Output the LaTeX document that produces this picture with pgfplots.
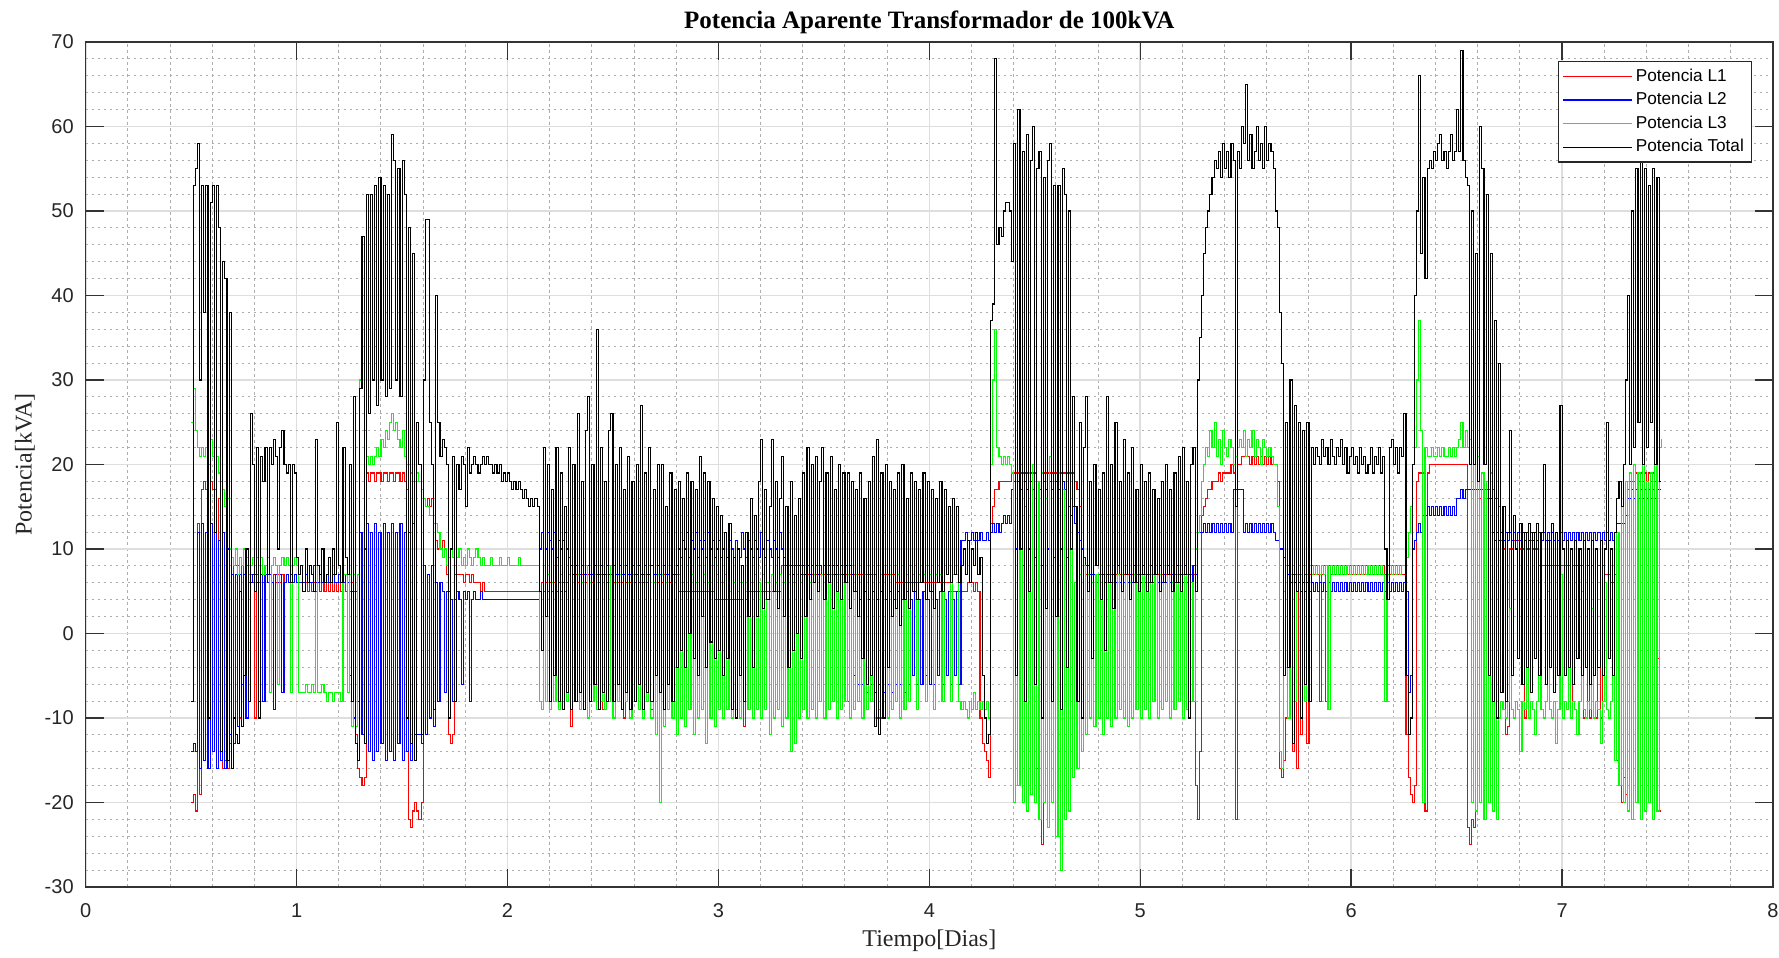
\documentclass[border=0pt]{standalone}
\usepackage{pgfplots}
\pgfplotsset{compat=1.18}
\usepackage{pgfplotstable}
\usepackage{fontspec}
\setmainfont{Liberation Serif}
\newfontfamily\ticksfont{Liberation Sans}

\pgfplotstableread{
x L1 L2 L3 T
0.50 -20 -14 25 -8
0.51 -19 -13 29 53
0.52 -21 -14 24 55
0.53 13 12 22 58
0.54 -19 -16 21 30
0.55 17 13 22 53
0.56 18 -15 21 38
0.57 17 12 22 53
0.58 -16 -16 20 -10
0.59 18 13 23 51
0.60 17 -14 21 53
0.61 17 12 22 12
0.62 -16 -16 21 53
0.63 16 11 19 48
0.64 -15 -15 18 -14
0.65 -16 12 17 44
0.66 -15 -16 15 42
0.67 -16 10 16 -15
0.68 -13 -12 10 38
0.69 -16 7 9 -16
0.70 8 -13 8 -10
0.71 8 7 10 -12
0.72 8 -11 7 -13
0.73 -10 7 9 5
0.74 8 -6 8 -11
0.75 7 7 10 -5
0.76 8 -10 9 10
0.77 6 7 7 -8
0.78 7 6 8 26
0.79 6 7 9 20
0.80 -10 7 8 5
0.81 7 6 9 22
0.82 6 -8 8 -10
0.83 7 7 9 21
0.84 6 -8 7 18
0.85 7 7 8 22
0.86 6 6 9 7
0.87 7 7 -7 22
0.88 6 6 8 20
0.89 7 -9 9 23
0.90 6 7 8 21
0.91 7 6 -6 10
0.92 6 7 8 22
0.93 7 -7 9 24
0.94 6 6 8 20
0.95 7 7 9 19
0.96 6 6 8 20
0.97 7 7 -7 6
0.98 6 6 8 20
0.99 7 7 9 19
1.00 6 6 8 9
1.01 6 6 -7 7
1.02 6 6 -7 8
1.03 5 6 -7 5
1.04 6 7 -6 10
1.05 5 6 -7 6
1.06 6 6 -7 8
1.07 5 6 -6 7
1.08 6 8 -7 5
1.09 5 6 8 23
1.10 6 6 -7 8
1.11 5 7 -7 7
1.12 6 6 -6 10
1.13 5 6 -7 6
1.14 6 7 -8 7
1.15 5 6 -7 9
1.16 6 6 -7 6
1.17 5 7 -8 10
1.18 6 6 -7 7
1.19 5 6 -7 25
1.20 6 7 -7 8
1.21 5 6 -8 6
1.22 6 6 7 22
1.23 5 7 7 9
1.24 6 6 -7 7
1.25 5 -5 7 20
1.26 6 5 -11 -8
1.27 5 -10 7 28
1.28 -12 5 -11 -13
1.29 -16 -8 7 -15
1.30 -17 12 30 29
1.31 -18 -12 40 47
1.32 -17 10 24 -13
1.33 19 13 21 52
1.34 18 -14 20 26
1.35 19 12 21 52
1.36 19 -15 20 30
1.37 18 13 21 53
1.38 19 -14 22 27
1.39 19 12 21 54
1.40 18 -13 23 30
1.41 19 13 22 53
1.42 19 -15 24 28
1.43 18 12 23 52
1.44 19 -14 25 29
1.45 19 13 26 59
1.46 18 -15 24 56
1.47 19 12 25 30
1.48 19 -13 23 55
1.49 18 13 22 28
1.50 19 -15 24 56
1.51 18 12 21 52
1.52 17 -14 20 -10
1.53 -22 12 20 48
1.54 -23 -15 19 -13
1.55 -21 13 18 45
1.56 -20 -12 18 -15
1.57 -21 -12 19 25
1.58 -22 -12 18 20
1.59 -20 -13 17 -12
1.60 16 8 16 30
1.61 15 -12 15 49
1.62 16 7 15 49
1.63 15 -10 14 25
1.64 16 8 14 20
1.65 13 -11 13 -9
1.66 11 6 13 40
1.67 10 -8 12 25
1.68 10 6 10 21
1.69 11 5 9 23
1.70 10 -7 10 22
1.71 7 5 8 20
1.72 -12 5 9 -10
1.73 -13 4 10 10
1.74 -12 -8 9 21
1.75 7 4 8 -8
1.76 7 5 9 20
1.77 7 4 10 17
1.78 7 -6 8 21
1.79 6 5 9 20
1.80 7 4 8 15
1.81 7 5 10 22
1.82 6 -8 9 19
1.83 7 4 8 20
1.84 6 5 9 21
1.85 6 4 10 20
1.86 6 4 9 19
1.87 5 5 8 20
1.88 6 4 9 21
1.89 5 4 8 20
1.90 5 4 8 21
1.91 5 4 8 20
1.92 5 4 9 20
1.93 5 4 8 19
1.94 5 4 8 20
1.95 5 4 8 19
1.96 5 4 9 20
1.97 5 4 8 18
1.98 5 4 8 19
1.99 5 4 8 18
2.00 5 4 9 19
2.01 5 4 8 18
2.02 5 4 8 17
2.03 5 4 8 18
2.04 5 4 8 17
2.05 5 4 9 18
2.06 5 4 8 17
2.07 5 4 8 16
2.08 5 4 8 17
2.09 5 4 8 16
2.10 5 4 8 15
2.11 5 4 8 16
2.12 5 4 8 15
2.13 5 4 8 16
2.14 5 4 8 15
2.15 5 10 -8 5
2.16 6 12 -9 -2
2.17 5 8 8 22
2.18 6 10 -8 2
2.19 5 12 7 20
2.20 6 11 -9 -8
2.21 5 10 6 17
2.22 6 12 -8 -5
2.23 5 9 8 22
2.24 6 11 -9 -8
2.25 5 10 7 19
2.26 6 11 -8 -9
2.27 5 12 6 15
2.28 6 10 -8 -7
2.29 7 9 7 22
2.30 -11 8 -9 -9
2.31 7 7 8 20
2.32 7 8 -8 -8
2.33 6 7 7 26
2.34 -8 7 -9 -7
2.35 7 8 6 18
2.36 7 7 -8 -9
2.37 6 7 8 24
2.38 7 8 -10 28
2.39 7 7 6 -8
2.40 6 7 -8 20
2.41 7 8 7 -6
2.42 7 7 -9 36
2.43 6 7 8 -9
2.44 7 8 -8 22
2.45 -9 7 6 -7
2.46 7 7 -9 18
2.47 6 8 7 -8
2.48 7 7 -8 24
2.49 7 7 8 26
2.50 6 8 -10 -8
2.51 7 7 6 20
2.52 6 7 -8 -6
2.53 7 8 7 22
2.54 6 7 -9 -9
2.55 -10 7 8 17
2.56 6 8 -8 -7
2.57 7 7 6 21
2.58 6 7 -10 -9
2.59 7 8 7 18
2.60 6 7 -8 -8
2.61 7 7 8 20
2.62 6 8 -9 -6
2.63 7 7 6 27
2.64 6 7 -10 -9
2.65 7 8 7 19
2.66 6 7 -8 -7
2.67 7 7 8 22
2.68 -9 8 -10 -8
2.69 6 7 6 17
2.70 7 7 -12 -5
2.71 6 8 7 20
2.72 7 7 -20 -7
2.73 6 7 7 20
2.74 7 8 -11 -9
2.75 6 7 6 15
2.76 7 7 -9 -6
2.77 6 8 8 19
2.78 7 7 -10 -8
2.79 6 7 6 17
2.80 7 8 -12 -4
2.81 5 10 7 18
2.82 5 9 -10 -2
2.83 5 11 6 16
2.84 5 10 -11 -4
2.85 5 12 8 19
2.86 5 9 -9 0
2.87 5 11 7 18
2.88 5 10 -12 -3
2.89 5 12 6 17
2.90 5 9 -10 -5
2.91 5 11 8 21
2.92 5 10 -9 2
2.93 5 11 7 19
2.94 5 9 -13 -4
2.95 5 12 6 18
2.96 5 10 -10 -1
2.97 5 11 8 16
2.98 4 9 -11 -3
2.99 4 10 7 15
3.00 4 11 -9 -2
3.01 4 9 6 14
3.02 4 10 -10 -5
3.03 4 12 7 12
3.04 4 9 -9 -3
3.05 4 11 5 13
3.06 4 10 -10 -9
3.07 4 9 6 9
3.08 4 11 -9 -10
3.09 4 10 5 10
3.10 4 9 -10 -5
3.11 4 12 6 8
3.12 -11 10 -8 -8
3.13 4 9 5 12
3.14 5 11 -9 2
3.15 5 10 6 16
3.16 5 9 -10 -4
3.17 5 11 7 14
3.18 5 10 -9 2
3.19 5 9 6 18
3.20 5 12 -10 23
3.21 5 10 7 3
3.22 5 9 -9 17
3.23 5 11 6 4
3.24 5 10 -12 15
3.25 5 9 7 23
3.26 5 11 -10 5
3.27 5 10 6 18
3.28 5 9 -9 3
3.29 5 12 7 16
3.30 8 10 -11 21
3.31 8 9 6 2
3.32 8 8 -10 15
3.33 8 7 7 -4
3.34 8 8 -14 18
3.35 8 7 6 -2
3.36 8 8 -13 14
3.37 8 7 7 0
3.38 8 8 -10 16
3.39 8 7 6 -3
3.40 7 8 -9 19
3.41 7 7 8 2
3.42 7 8 -10 22
3.43 7 7 6 4
3.44 7 8 -9 20
3.45 7 7 7 6
3.46 7 8 -10 21
3.47 7 7 8 5
3.48 7 8 -8 18
3.49 7 7 7 22
3.50 7 8 -10 4
3.51 7 7 8 19
3.52 7 8 -9 6
3.53 7 7 7 21
3.54 7 8 -8 3
3.55 7 7 8 17
3.56 7 8 -10 5
3.57 7 7 7 20
3.58 7 8 -9 4
3.59 7 7 8 19
3.60 7 8 -8 6
3.61 -8 7 7 19
3.62 7 8 -10 3
3.63 7 7 8 18
3.64 7 -5 -9 5
3.65 7 5 7 17
3.66 7 -6 -8 2
3.67 7 4 8 19
3.68 7 -6 -10 -3
3.69 7 5 7 16
3.70 7 -7 -9 -6
3.71 7 4 8 18
3.72 7 -6 -8 -5
3.73 7 5 7 21
3.74 7 -7 -10 -11
3.75 -10 4 8 23
3.76 -10 -6 -9 -12
3.77 -10 5 7 19
3.78 7 -7 -8 -10
3.79 7 4 8 20
3.80 7 -6 -10 -4
3.81 7 5 7 18
3.82 7 -7 -9 2
3.83 7 4 8 17
3.84 6 -6 -8 3
3.85 6 5 7 19
3.86 6 -6 -10 1
3.87 6 4 8 20
3.88 6 -7 -9 4
3.89 6 5 7 16
3.90 6 -6 -8 3
3.91 6 4 8 19
3.92 6 -5 7 5
3.93 6 5 8 18
3.94 6 -6 -9 4
3.95 6 4 7 17
3.96 6 -6 8 6
3.97 6 5 7 19
3.98 6 -5 -8 4
3.99 6 4 8 18
4.00 6 -6 7 5
4.01 6 5 8 17
4.02 6 -6 -9 3
4.03 6 4 7 16
4.04 6 -5 8 6
4.05 6 5 7 18
4.06 6 -6 -8 5
4.07 6 4 8 17
4.08 6 -5 7 7
4.09 6 5 8 15
4.10 5 -6 -8 6
4.11 5 4 7 16
4.12 5 -5 8 7
4.13 5 5 7 15
4.14 5 -6 -8 6
4.15 5 11 -9 8
4.16 5 11 -8 10
4.17 5 12 -9 7
4.18 6 11 -10 11
4.19 6 11 -8 6
4.20 6 12 -9 10
4.21 5 11 -7 8
4.22 6 11 -9 12
4.23 5 11 -8 7
4.24 -10 12 -9 9
4.25 -13 11 -8 -5
4.26 -14 11 -9 -10
4.27 -15 12 -8 -13
4.28 -17 11 -10 -12
4.29 13 12 20 37
4.30 15 13 30 39
4.31 17 12 36 68
4.32 17 13 22 46
4.33 18 12 21 48
4.34 18 13 20 47
4.35 18 14 21 50
4.36 18 13 20 51
4.37 18 14 21 51
4.38 18 13 20 50
4.39 19 17 19 44
4.40 19 18 -20 58
4.41 19 10 18 -5
4.42 19 18 -18 62
4.43 19 17 20 10
4.44 19 8 -20 57
4.45 19 18 15 -8
4.46 19 17 -21 59
4.47 19 10 19 5
4.48 19 18 -19 56
4.49 19 17 20 60
4.50 19 9 -20 -6
4.51 -16 18 18 55
4.52 -22 17 -22 57
4.53 -25 8 19 -10
4.54 19 18 -20 54
4.55 19 17 16 3
4.56 19 10 -23 56
4.57 19 18 21 58
4.58 19 17 -20 -8
4.59 19 9 18 53
4.60 19 18 -24 2
4.61 19 17 19 53
4.62 19 10 -28 -9
4.63 19 18 17 55
4.64 19 17 -22 52
4.65 19 9 18 -4
4.66 19 15 -21 50
4.67 19 14 10 10
4.68 19 15 -17 28
4.69 18 13 6 15
4.70 17 12 -16 -8
4.71 15 11 7 25
4.72 10 10 -14 -10
4.73 8 9 8 22
4.74 7 8 -12 28
4.75 7 8 7 5
4.76 7 7 -10 18
4.77 7 7 6 -3
4.78 7 7 -11 20
4.79 7 6 7 8
4.80 7 7 -10 17
4.81 7 6 6 4
4.82 7 7 -12 19
4.83 7 6 7 -2
4.84 7 7 -10 28
4.85 7 8 8 6
4.86 7 6 -11 20
4.87 7 7 6 3
4.88 7 6 -10 25
4.89 7 8 7 8
4.90 7 6 -9 18
4.91 7 7 7 5
4.92 7 6 -10 23
4.93 7 8 8 7
4.94 7 6 -11 19
4.95 7 7 6 4
4.96 7 6 -10 22
4.97 7 8 7 6
4.98 7 6 -9 17
4.99 7 7 8 5
5.00 7 6 -10 20
5.01 7 8 7 7
5.02 7 6 -9 18
5.03 7 7 6 5
5.04 7 6 -10 19
5.05 7 8 7 6
5.06 7 6 -8 17
5.07 7 7 8 7
5.08 7 6 -10 16
5.09 7 8 7 5
5.10 7 6 -9 18
5.11 7 7 8 6
5.12 7 6 -8 20
5.13 7 8 7 7
5.14 7 6 -10 17
5.15 7 7 6 5
5.16 7 6 -9 19
5.17 7 8 7 6
5.18 7 6 -8 21
5.19 7 7 8 5
5.20 7 6 -10 22
5.21 7 8 7 7
5.22 7 6 -9 18
5.23 7 7 -8 -10
5.24 7 6 6 20
5.25 7 8 -8 22
5.26 -18 7 10 5
5.27 -22 12 12 30
5.28 -14 12 14 35
5.29 14 12 18 40
5.30 15 13 20 45
5.31 16 12 22 48
5.32 17 13 21 50
5.33 17 12 24 52
5.34 18 13 22 54
5.35 18 12 25 56
5.36 18 13 21 55
5.37 19 12 23 57
5.38 18 13 20 54
5.39 19 12 24 58
5.40 19 13 22 55
5.41 19 12 21 57
5.42 19 13 23 54
5.43 20 12 22 58
5.44 19 17 20 56
5.45 -22 17 21 15
5.46 20 17 22 57
5.47 20 17 23 55
5.48 21 17 22 60
5.49 21 12 24 58
5.50 21 13 21 65
5.51 21 12 23 56
5.52 20 13 22 59
5.53 21 12 24 55
5.54 20 13 21 57
5.55 21 12 23 60
5.56 20 13 22 56
5.57 21 12 20 58
5.58 20 13 23 55
5.59 21 12 22 60
5.60 20 13 21 56
5.61 21 12 22 58
5.62 20 13 21 57
5.63 20 12 20 55
5.64 20 11 20 50
5.65 18 11 15 48
5.66 -16 10 -14 38
5.67 -17 10 -16 32
5.68 -15 9 5 -5
5.69 -10 8 8 25
5.70 8 7 -10 -4
5.71 7 6 7 30
5.72 -14 7 8 -13
5.73 7 6 -8 27
5.74 -16 7 7 5
5.75 7 6 8 25
5.76 -12 5 7 -10
5.77 8 6 8 24
5.78 7 5 -8 -6
5.79 -13 6 7 25
5.80 7 5 8 -8
5.81 8 6 7 22
5.82 7 5 8 20
5.83 8 6 7 22
5.84 7 5 8 21
5.85 -8 6 7 20
5.86 7 5 8 23
5.87 8 6 7 21
5.88 -8 5 8 22
5.89 8 6 -9 20
5.90 7 5 8 23
5.91 8 6 7 21
5.92 7 5 8 20
5.93 8 6 7 22
5.94 7 5 8 21
5.95 8 6 7 23
5.96 7 5 8 20
5.97 8 6 7 22
5.98 7 5 8 19
5.99 8 6 7 21
6.00 7 5 8 22
6.01 8 6 7 20
6.02 7 5 8 21
6.03 8 6 7 19
6.04 7 5 8 22
6.05 8 6 7 20
6.06 7 5 8 21
6.07 8 6 7 19
6.08 7 5 8 20
6.09 8 6 7 22
6.10 7 5 8 19
6.11 8 6 7 21
6.12 7 5 8 20
6.13 8 6 7 22
6.14 7 5 8 19
6.15 8 6 7 21
6.16 7 5 -8 10
6.17 8 6 7 4
6.18 7 5 8 22
6.19 8 6 7 23
6.20 7 5 8 20
6.21 8 6 7 22
6.22 7 5 8 19
6.23 8 6 7 22
6.24 7 5 8 21
6.25 7 6 8 26
6.26 -12 5 9 -5
6.27 -17 -7 12 -12
6.28 -19 -5 15 -10
6.29 -20 10 20 20
6.30 -18 11 22 40
6.31 18 12 30 50
6.32 19 13 37 66
6.33 19 12 24 45
6.34 19 14 -20 54
6.35 -21 14 22 42
6.36 19 15 21 55
6.37 20 14 21 56
6.38 20 15 22 55
6.39 20 14 21 57
6.40 20 15 21 56
6.41 20 14 22 58
6.42 20 15 21 59
6.43 20 14 22 56
6.44 20 15 21 57
6.45 20 14 21 55
6.46 20 15 22 57
6.47 20 14 21 59
6.48 20 15 22 56
6.49 20 14 21 57
6.50 20 16 22 62
6.51 20 16 23 57
6.52 20 17 25 69
6.53 20 16 22 56
6.54 20 17 24 54
6.55 -23 17 22 53
6.56 -25 17 23 20
6.57 -22 17 -20 50
6.58 -23 17 20 20
6.59 17 17 -21 45
6.60 17 17 21 18
6.61 16 17 -20 60
6.62 17 17 19 55
6.63 -22 17 -22 20
6.64 16 17 18 52
6.65 17 16 -20 -5
6.66 16 16 19 45
6.67 17 12 -21 -8
6.68 16 11 20 37
6.69 16 12 -22 -10
6.70 15 11 -10 32
6.71 11 12 -8 -7
6.72 10 11 -9 15
6.73 -12 12 -10 -8
6.74 -11 11 -8 12
6.75 10 12 3 24
6.76 10 11 -9 -5
6.77 11 12 -10 14
6.78 10 11 -8 10
6.79 11 12 -9 -3
6.80 10 11 -14 13
6.81 10 12 -8 -6
6.82 -10 11 -9 12
6.83 10 12 4 -4
6.84 10 11 -10 13
6.85 11 12 -8 -7
6.86 10 11 -9 12
6.87 10 12 -12 -3
6.88 10 11 -8 13
6.89 8 12 6 -5
6.90 8 11 -9 12
6.91 8 12 -10 20
6.92 8 11 -8 -6
6.93 8 12 5 11
6.94 8 11 -9 -4
6.95 8 12 -10 13
6.96 8 11 -8 -7
6.97 8 12 -13 12
6.98 8 11 -9 -5
6.99 8 12 7 27
7.00 8 11 -10 10
7.01 8 12 -8 -5
7.02 8 11 -9 11
7.03 8 12 2 -4
7.04 -10 11 -10 10
7.05 8 12 -8 -6
7.06 8 11 -9 11
7.07 8 12 -12 -3
7.08 8 11 -8 10
7.09 8 12 5 -5
7.10 -10 11 -9 11
7.11 -10 12 -10 -4
7.12 8 11 -8 10
7.13 -10 12 -9 -6
7.14 8 11 3 11
7.15 -10 12 -10 -5
7.16 -10 11 -8 10
7.17 8 12 -9 -4
7.18 -10 11 -13 11
7.19 8 12 -8 -5
7.20 7 11 6 10
7.21 7 12 -9 25
7.22 7 11 -10 -3
7.23 6 12 -8 10
7.24 6 11 8 -5
7.25 7 12 -15 12
7.26 -15 13 12 16
7.27 -18 13 -18 18
7.28 -20 13 15 15
7.29 -17 13 -20 20
7.30 -19 14 18 30
7.31 17 16 -21 40
7.32 18 16 19 20
7.33 18 17 -22 50
7.34 18 16 20 22
7.35 19 17 -20 55
7.36 18 16 19 25
7.37 19 17 -22 57
7.38 18 16 20 20
7.39 19 17 -21 55
7.40 18 16 18 22
7.41 19 17 -20 53
7.42 18 16 19 25
7.43 19 17 -22 55
7.44 18 16 20 20
7.45 -3 17 -21 54
7.46 -21 17 22 18
7.47 -21 17 23 18
}\data

\begin{document}
\begin{tikzpicture}
\useasboundingbox (-42.85pt,-35pt) rectangle (846.6pt,443.5pt);
\begin{axis}[
  at={(0,0)}, anchor=south west,
  scale only axis, width=843.6pt, height=422.5pt,
  xmin=0, xmax=8, ymin=-30, ymax=70,
  xtick={0,1,...,8}, ytick={-30,-20,...,70},
  minor x tick num=4, minor y tick num=4,
  grid=both,
  major grid style={line width=0.8pt, color=black!13},
  minor grid style={line width=0.5pt, color=black!32, dash pattern=on 1.3pt off 1.7pt},
  tick align=inside,
  major tick length=9pt, minor tick length=0pt,
  major tick style={line width=0.7pt, color=black!80},
  axis line style={line width=0.75pt, color=black!80},
  /pgf/number format/assume math mode=true,
  ticklabel style={font=\ticksfont\fontsize{10}{12}\selectfont, color=black!85},
  xticklabel style={yshift=-4.6pt},
  yticklabel style={xshift=-2.5pt},
  title={\bfseries Potencia Aparente Transformador de 100kVA},
  title style={at={(0.5,1)}, anchor=base, yshift=0.6pt, font=\fontsize{12.5}{14}\selectfont},
  xlabel={Tiempo[Dias]},
  ylabel={Potencia[kVA]},
  xlabel style={at={(axis description cs:0.5,-0.0639)}, anchor=center, font=\fontsize{12}{14}\selectfont, color=black!85},
  ylabel style={at={(axis description cs:-0.036,0.5)}, anchor=center, font=\fontsize{12}{14}\selectfont, color=black!85},
  legend style={at={(1,1)}, anchor=north east, xshift=-10.5pt, yshift=-9.5pt,
    draw=black!85, line width=0.6pt, fill=white, font=\ticksfont\fontsize{8.6}{10}\selectfont,
    inner xsep=2pt, inner ysep=1.5pt, row sep=0pt,
    nodes={inner sep=1.75pt, text height=6.5pt, text depth=1.8pt}},
  legend cell align=left,
  legend image code/.code={\draw[#1, line width=0.55pt] (0pt,0pt) -- (34.5pt,0pt);},
]
\addplot[const plot, red, line width=0.55pt] table[x=x, y=L1]{\data};
\addlegendentry{Potencia L1}
\addplot[const plot, blue, line width=0.55pt] table[x=x, y=L2]{\data};
\addlegendentry{Potencia L2}
\addplot[const plot, green, line width=0.55pt] table[x=x, y=L3]{\data};
\addlegendentry{Potencia L3}
\addplot[const plot, black, line width=0.55pt] table[x=x, y=T]{\data};
\addlegendentry{Potencia Total}
\end{axis}
\end{tikzpicture}
\end{document}
